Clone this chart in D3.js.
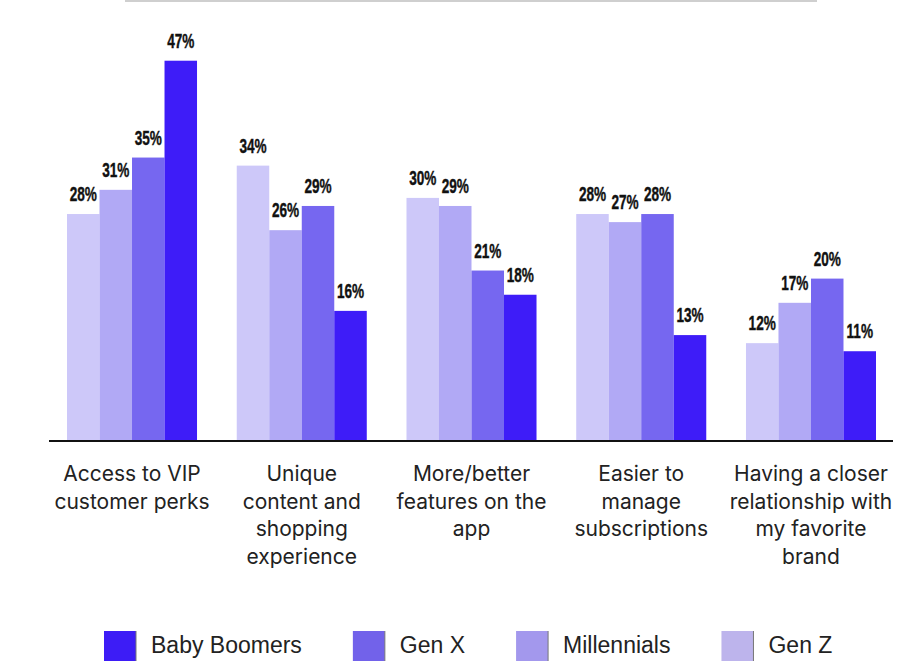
<!DOCTYPE html>
<html>
<head>
<meta charset="utf-8">
<script src="https://cdn.jsdelivr.net/npm/d3@7"></script>
<style>
  html, body { margin: 0; padding: 0; background: #ffffff; }
  svg { display: block; }
</style>
</head>
<body>
<svg id="chart" width="901" height="661"></svg>
<script>
// Survey reasons, one group of bars per reason
const categories = [
  "Access to VIP customer perks",
  "Unique content and shopping experience",
  "More/better features on the app",
  "Easier to manage subscriptions",
  "Having a closer relationship with my favorite brand"
];
const categoryLines = [
  ["Access to VIP", "customer perks"],
  ["Unique", "content and", "shopping", "experience"],
  ["More/better", "features on the", "app"],
  ["Easier to", "manage", "subscriptions"],
  ["Having a closer", "relationship with", "my favorite", "brand"]
];

// Generations, in the order the bars appear inside each group
const series = ["Gen Z", "Millennials", "Gen X", "Baby Boomers"];
const genZ        = [28, 34, 30, 28, 12];
const millennials = [31, 26, 29, 27, 17];
const genX        = [35, 29, 21, 28, 20];
const babyBoomers = [47, 16, 18, 13, 11];
const seriesValues = [genZ, millennials, genX, babyBoomers];

const colors = ["#cdc8f9", "#b1a9f5", "#7667f0", "#3e1cf8"];
const legendOrder = ["Baby Boomers", "Gen X", "Millennials", "Gen Z"];
const legendColors = ["#3d1cf6", "#7262ea", "#a398ed", "#bdb4ec"];

const svg = d3.select("#chart");

const x0 = d3.scaleBand().domain(categories).range([67, 876]).paddingInner(0.234).paddingOuter(0);
const x1 = d3.scaleBand().domain(series).range([0, x0.bandwidth()]).padding(0);
const y = d3.scaleLinear().domain([0, 50]).range([440, 36.5]);

// thin rule across the top
svg.append("line")
  .attr("x1", 125).attr("x2", 817).attr("y1", 1).attr("y2", 1)
  .attr("stroke", "#cfcfcf").attr("stroke-width", 2);

const rows = categories.map((c, i) => ({
  category: c,
  values: series.map((s, j) => ({ series: s, value: seriesValues[j][i], color: colors[j] }))
}));

const groups = svg.append("g").selectAll("g")
  .data(rows).join("g")
  .attr("transform", d => `translate(${x0(d.category)},0)`);

groups.selectAll("rect")
  .data(d => d.values).join("rect")
  .attr("x", d => x1(d.series))
  .attr("width", x1.bandwidth())
  .attr("y", d => y(d.value))
  .attr("height", d => y(0) - y(d.value))
  .attr("fill", d => d.color);

// value labels in a narrow, heavy face
groups.selectAll("text.val")
  .data(d => d.values).join("text")
  .attr("class", "val")
  .attr("transform", d => `translate(${x1(d.series) + x1.bandwidth() / 2},${y(d.value) - 13}) scale(0.68,1)`)
  .attr("text-anchor", "middle")
  .attr("font-family", "'Liberation Sans', Arial, sans-serif")
  .attr("font-weight", "bold")
  .attr("font-size", 20)
  .attr("fill", "#111")
  .attr("stroke", "#111")
  .attr("stroke-width", 0.4)
  .text(d => d.value + "%");

// baseline
svg.append("line")
  .attr("x1", 49).attr("x2", 893).attr("y1", y(0) + 1).attr("y2", y(0) + 1)
  .attr("stroke", "#111").attr("stroke-width", 2);

// category labels under each group
const labels = svg.append("g").selectAll("text")
  .data(categories).join("text")
  .attr("x", d => x0(d) + x0.bandwidth() / 2)
  .attr("y", 481)
  .attr("text-anchor", "middle")
  .attr("font-family", "Inter, 'Noto Sans', sans-serif")
  .attr("font-size", 21)
  .attr("fill", "#222");
labels.selectAll("tspan")
  .data((d, i) => categoryLines[i]).join("tspan")
  .attr("x", function() { return d3.select(this.parentNode).attr("x"); })
  .attr("dy", (d, i) => i === 0 ? 0 : 27.7)
  .text(d => d);

// legend
const legend = svg.append("g");
let lx = 104;
legendOrder.forEach((name, i) => {
  const item = legend.append("g").attr("transform", `translate(${lx},631)`);
  item.append("rect").attr("width", 32).attr("height", 34).attr("fill", legendColors[i]);
  item.append("line").attr("x1", 32).attr("x2", 32).attr("y1", 0).attr("y2", 34)
    .attr("stroke", "#777").attr("stroke-width", 1);
  const t = item.append("text")
    .attr("x", 47).attr("y", 22)
    .attr("font-family", "'Liberation Sans', Arial, sans-serif")
    .attr("font-size", 23)
    .attr("fill", "#222")
    .text(name);
  const w = t.node().getComputedTextLength();
  lx += 47 + w + 51;
});
</script>
</body>
</html>
